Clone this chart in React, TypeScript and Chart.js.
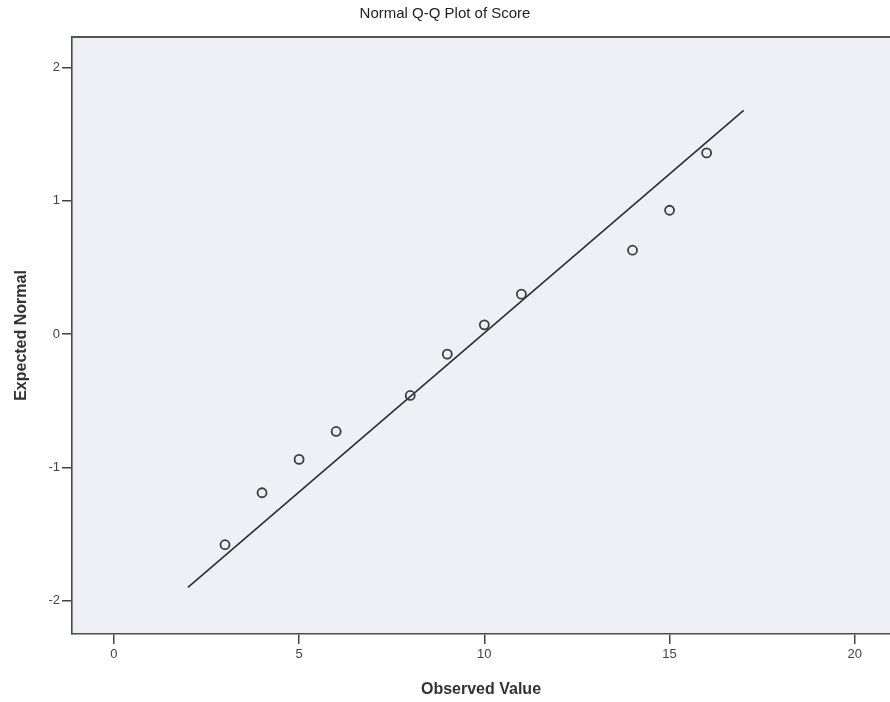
import React, { useEffect, useRef } from "react";
import { Chart, registerables } from "chart.js";

Chart.register(...registerables);

const observedValues = [3, 4, 5, 6, 8, 9, 10, 11, 14, 15, 16];
const expectedNormal = [-1.58, -1.19, -0.94, -0.73, -0.46, -0.15, 0.07, 0.3, 0.63, 0.93, 1.36];
const refLineX = [2, 17];
const refLineY = [-1.9, 1.68];

const xTickValues = [0, 5, 10, 15, 20];
const yTickValues = [-2, -1, 0, 1, 2];

const FONT = "'Liberation Sans', Arial, sans-serif";

const framePlugin = {
  id: "framePlugin",
  beforeDraw(chart: any) {
    const { ctx, chartArea } = chart;
    ctx.save();
    ctx.fillStyle = "#eef0f5";
    ctx.fillRect(chartArea.left, chartArea.top, chartArea.right - chartArea.left, chartArea.bottom - chartArea.top);
    ctx.restore();
  },
  afterDraw(chart: any) {
    const { ctx, chartArea } = chart;
    ctx.save();
    ctx.strokeStyle = "#555";
    ctx.lineWidth = 2;
    ctx.beginPath();
    ctx.moveTo(chartArea.left, chartArea.top);
    ctx.lineTo(chartArea.right, chartArea.top);
    ctx.stroke();
    ctx.restore();
  },
};

export default function App() {
  const canvasRef = useRef<HTMLCanvasElement | null>(null);

  useEffect(() => {
    if (!canvasRef.current) return;
    const points = observedValues.map((x, i) => ({ x, y: expectedNormal[i] }));
    const line = refLineX.map((x, i) => ({ x, y: refLineY[i] }));
    const chart = new Chart(canvasRef.current, {
      type: "scatter",
      data: {
        datasets: [
          {
            type: "line",
            data: line,
            borderColor: "#2e2e2e",
            borderWidth: 1.6,
            pointRadius: 0,
            fill: false,
            order: 2,
          } as any,
          {
            type: "scatter",
            data: points,
            borderColor: "#3c3c3c",
            backgroundColor: "rgba(0,0,0,0)",
            borderWidth: 1.8,
            pointRadius: 4.5,
            pointStyle: "circle",
            order: 1,
          },
        ],
      },
      plugins: [framePlugin],
      options: {
        animation: false,
        responsive: false,
        devicePixelRatio: 1,
        layout: { autoPadding: false, padding: { left: 0, right: 0, top: 0, bottom: 0 } },
        plugins: {
          legend: { display: false },
          tooltip: { enabled: false },
          title: {
            display: true,
            text: "Normal Q-Q Plot of Score",
            color: "#222",
            font: { family: FONT, size: 15, weight: "normal" },
            padding: { top: 5, bottom: 14 },
          },
        },
        scales: {
          x: {
            type: "linear",
            min: -1.13,
            max: 20.95,
            afterFit: (scale: any) => {
              scale.height = 68;
            },
            afterBuildTicks: (scale: any) => {
              scale.ticks = xTickValues.map((v) => ({ value: v }));
            },
            ticks: {
              stepSize: 5,
              includeBounds: false,
              color: "#444",
              padding: 3,
              font: { family: FONT, size: 13 },
            },
            grid: {
              drawOnChartArea: false,
              drawTicks: true,
              tickLength: 10,
              color: "#444",
              lineWidth: 1.5,
            },
            border: { display: true, color: "#4a4a4a", width: 1.6 },
            title: {
              display: true,
              text: "Observed Value",
              color: "#333",
              font: { family: FONT, size: 16, weight: "bold" },
              padding: { top: 0, bottom: 3 },
            },
          },
          y: {
            type: "linear",
            min: -2.25,
            max: 2.23,
            afterFit: (scale: any) => {
              scale.width = 72;
            },
            afterBuildTicks: (scale: any) => {
              scale.ticks = yTickValues.map((v) => ({ value: v }));
            },
            ticks: {
              stepSize: 1,
              includeBounds: false,
              color: "#444",
              padding: 2,
              font: { family: FONT, size: 13 },
            },
            grid: {
              drawOnChartArea: false,
              drawTicks: true,
              tickLength: 10,
              color: "#444",
              lineWidth: 1.5,
            },
            border: { display: true, color: "#4a4a4a", width: 1.6 },
            title: {
              display: true,
              text: "Expected Normal",
              color: "#333",
              font: { family: FONT, size: 16, weight: "bold" },
              padding: { top: 12, bottom: 0 },
            },
          },
        },
      },
    });
    return () => chart.destroy();
  }, []);

  return (
    <div style={{ position: "absolute", left: 0, top: 0, width: 890, height: 702, background: "#fff" }}>
      <canvas ref={canvasRef} width={890} height={702} style={{ width: 890, height: 702 }} />
    </div>
  );
}
